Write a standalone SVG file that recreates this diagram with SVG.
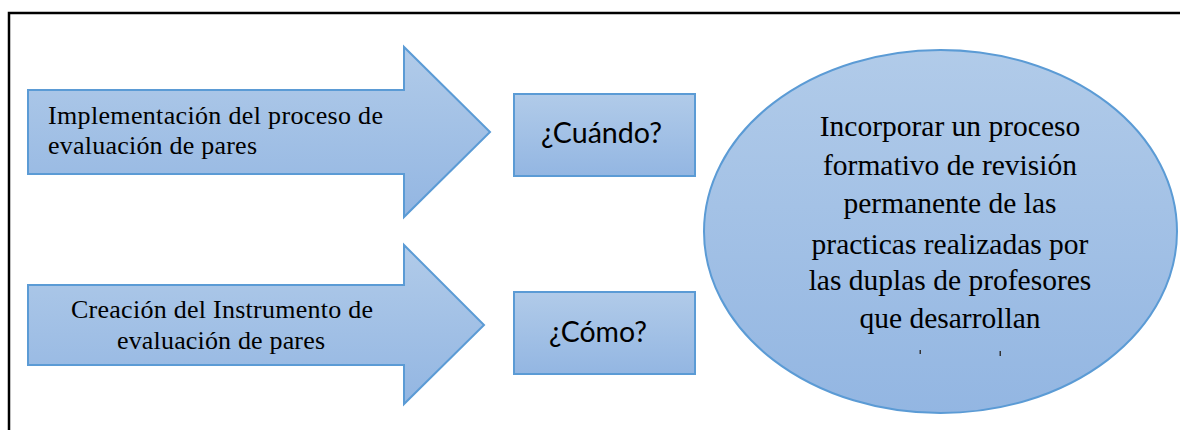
<svg xmlns="http://www.w3.org/2000/svg" width="1180" height="430" viewBox="0 0 1180 430">
  <defs>
    <linearGradient id="blueGrad" x1="0" y1="0" x2="0" y2="1">
      <stop offset="0" stop-color="#b1cbe9"/>
      <stop offset="1" stop-color="#93b6e2"/>
    </linearGradient>
    <style>
      .shape { fill: url(#blueGrad); stroke: #5b9bd5; stroke-width: 2; stroke-linejoin: miter; }
      .frame { stroke: #000; stroke-width: 2.5; fill: none; }
    </style>
  </defs>
  <rect x="0" y="0" width="1180" height="430" fill="#fff"/>
  <g id="frame">
    <polyline class="frame" points="9,430 9,13 1182,13"/>
  </g>
  <g id="arrow-implementacion">
    <polygon class="shape" points="28,90 404,90 404,47 490,132 404,217 404,174 28,174"/>
    <g font-family="'Liberation Serif', 'DejaVu Serif', serif" font-size="26" fill="#000">
      <text x="48" y="124" textLength="335" lengthAdjust="spacing">Implementación  del proceso de</text>
      <text x="48" y="154" textLength="209" lengthAdjust="spacing">evaluación de pares</text>
    </g>
  </g>
  <g id="arrow-creacion">
    <polygon class="shape" points="28,285 404,285 404,245 484,325 404,404 404,365 28,365"/>
    <g font-family="'Liberation Serif', 'DejaVu Serif', serif" font-size="26" fill="#000" text-anchor="middle">
      <text x="222" y="318" textLength="302" lengthAdjust="spacing">Creación del Instrumento de</text>
      <text x="221" y="349" textLength="208" lengthAdjust="spacing">evaluación de pares</text>
    </g>
  </g>
  <g id="box-cuando">
    <rect class="shape" x="514" y="94" width="181" height="82"/>
    <text font-family="Lato, 'Open Sans', 'Liberation Sans', sans-serif" font-size="28" fill="#000" x="541" y="143" textLength="121" lengthAdjust="spacingAndGlyphs">¿Cuándo?</text>
  </g>
  <g id="box-como">
    <rect class="shape" x="514" y="292" width="181" height="82"/>
    <text font-family="Lato, 'Open Sans', 'Liberation Sans', sans-serif" font-size="28" fill="#000" x="549" y="342" textLength="98" lengthAdjust="spacingAndGlyphs">¿Cómo?</text>
  </g>
  <g id="ellipse-objetivo">
    <ellipse class="shape" cx="940.5" cy="231.5" rx="236.5" ry="181.5"/>
    <g font-family="'Liberation Serif', 'DejaVu Serif', serif" font-size="29.5" fill="#000" text-anchor="middle">
      <text x="950" y="136">Incorporar un proceso</text>
      <text x="950" y="175">formativo  de revisión</text>
      <text x="950" y="213">permanente de las</text>
      <text x="950" y="254">practicas realizadas por</text>
      <text x="950" y="290">las duplas  de profesores</text>
      <text x="950" y="328">que desarrollan</text>
    </g>
    <rect x="919.5" y="350" width="1.5" height="4" fill="#333"/>
    <rect x="999.5" y="351" width="1.5" height="5" fill="#333"/>
  </g>
  <g id="connectors"></g>
</svg>
